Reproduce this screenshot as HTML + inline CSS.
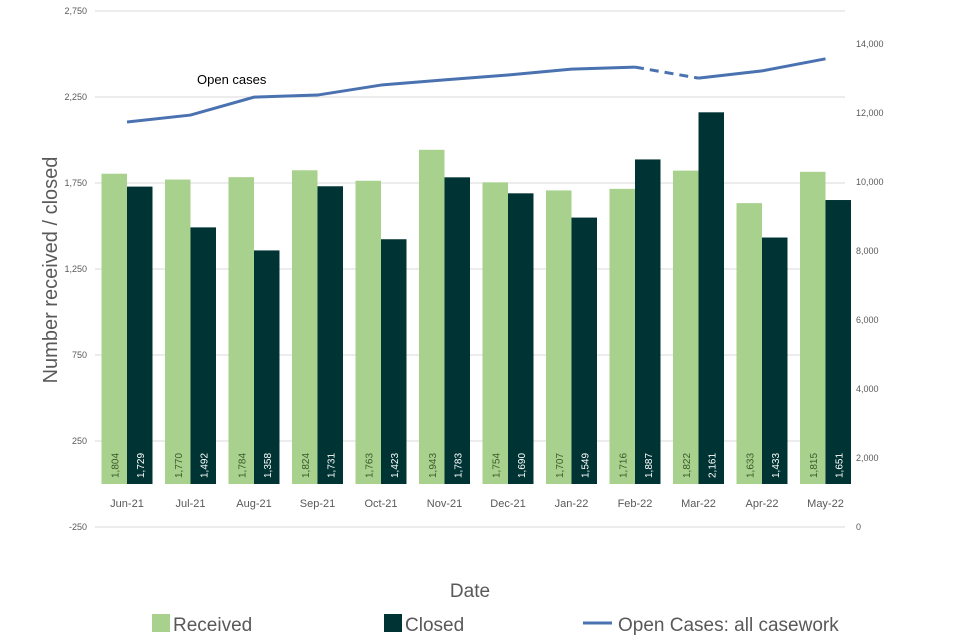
<!DOCTYPE html>
<html><head><meta charset="utf-8"><style>
body{margin:0;background:#fff;}
svg{display:block;font-family:"Liberation Sans",sans-serif;}
</style></head><body>
<svg id="chart" width="960" height="640"></svg>
<script>
const categories=["Jun-21","Jul-21","Aug-21","Sep-21","Oct-21","Nov-21","Dec-21","Jan-22","Feb-22","Mar-22","Apr-22","May-22"];
const received=[1804,1770,1784,1824,1763,1943,1754,1707,1716,1822,1633,1815];
const closed=[1729,1492,1358,1731,1423,1783,1690,1549,1887,2161,1433,1651];
const openCases=[11740,11940,12460,12520,12810,12960,13100,13270,13330,13010,13220,13570];
const leftTicks=[-250,250,750,1250,1750,2250,2750];
const rightTicks=[0,2000,4000,6000,8000,10000,12000,14000];
const NS="http://www.w3.org/2000/svg";
const svg=document.getElementById('chart');
function yL(v){return 484-v*86/500;}
function yR(v){return 527-v*69/2000;}
function xC(i){return 127+i*63.5;}
function mk(t,a,p){const e=document.createElementNS(NS,t);for(const k in a)e.setAttribute(k,a[k]);(p||svg).appendChild(e);return e;}
const fmt=v=>v.toLocaleString('en-US');
leftTicks.forEach(v=>{
  const g=mk('line',{x1:95,x2:845,y1:yL(v),y2:yL(v),stroke:'#d9d9d9','stroke-width':1});
  
  
  const t=mk('text',{x:87,y:yL(v)+3,'text-anchor':'end','font-size':9,fill:'#595959'});
  t.textContent=fmt(v);
  
  
});
rightTicks.forEach(v=>{
  const t=mk('text',{x:856,y:yR(v)+3,'font-size':9,fill:'#595959'});
  t.textContent=fmt(v);
  
  
});
const bw=25.5;
categories.forEach((c,i)=>{
  const x=xC(i);
  [[received[i],x-bw,'#a9d18e','#3a5a2a'],[closed[i],x,'#003333','#ffffff']].forEach(([v,bx,col,tc],k)=>{
    const r=mk('rect',{x:bx,y:yL(v),width:bw,height:yL(0)-yL(v),fill:col});
    
    
    const cx=bx+bw/2+4,cy=478;
    const t=mk('text',{x:cx,y:cy,transform:`rotate(-90 ${cx} ${cy})`,'font-size':10,fill:tc});
    t.textContent=fmt(v);
    
    
  });
  const t=mk('text',{x:x,y:507,'text-anchor':'middle','font-size':11,fill:'#595959'});
  t.textContent=c;
  
  
});
let d1='',d3='';
openCases.forEach((v,i)=>{
  if(i<=8)d1+=(i?'L':'M')+xC(i)+','+yR(v);
  if(i>=9)d3+=(i>9?'L':'M')+xC(i)+','+yR(v);
});
const l1=mk('path',{d:d1,fill:'none',stroke:'#4a72b0','stroke-width':3});


const l2=mk('path',{d:`M${xC(8)},${yR(openCases[8])}L${xC(9)},${yR(openCases[9])}`,fill:'none',stroke:'#4a72b0','stroke-width':3,'stroke-dasharray':'9,6'});


const l3=mk('path',{d:d3,fill:'none',stroke:'#4a72b0','stroke-width':3});


function txt(s,a,name){const t=mk('text',a);t.textContent=s;return t;}
txt('Open cases',{x:197,y:84,'font-size':13,fill:'#000'},'line-annotation');
txt('Date',{x:470,y:597,'text-anchor':'middle','font-size':19,fill:'#595959'},'x-axis-title');
txt('Number received / closed',{x:57,y:270,'text-anchor':'middle','font-size':20,fill:'#595959',transform:'rotate(-90 57 270)'},'y-axis-title');
let lg=mk('rect',{x:152,y:614,width:18,height:18,fill:'#a9d18e'});
txt('Received',{x:173,y:631,'font-size':19,fill:'#595959'},'legend-received');
lg=mk('rect',{x:384,y:614,width:18,height:18,fill:'#003333'});
txt('Closed',{x:405,y:631,'font-size':19,fill:'#595959'},'legend-closed');
lg=mk('line',{x1:583,x2:612,y1:623,y2:623,stroke:'#4a72b0','stroke-width':3});
txt('Open Cases: all casework',{x:618,y:631,'font-size':19,fill:'#595959'},'legend-open-cases');
</script>
</body></html>
